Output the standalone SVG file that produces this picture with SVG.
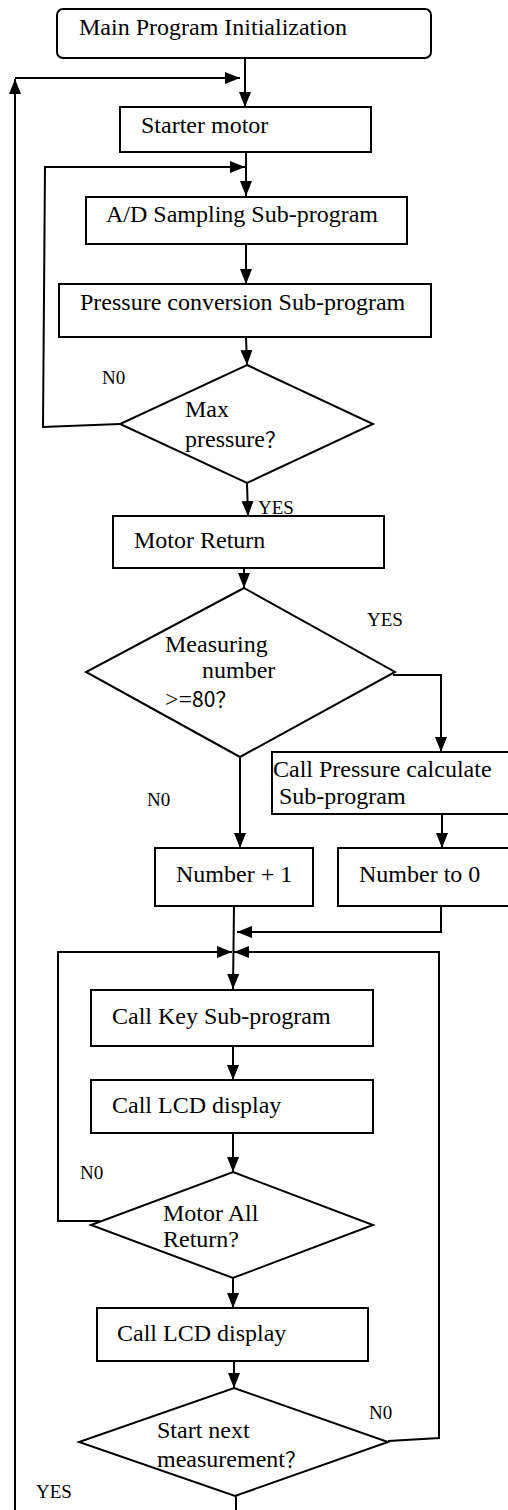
<svg xmlns="http://www.w3.org/2000/svg" width="508" height="1510" viewBox="0 0 508 1510">
<style>
.box{fill:#fff;stroke:#000;stroke-width:2}
.conn{fill:none;stroke:#000;stroke-width:2}
.t{font-family:"Liberation Serif","Times New Roman","Noto Sans CJK SC",serif;font-size:24px;fill:#000}
.lbl{font-family:"Liberation Serif","Times New Roman",serif;font-size:19px;fill:#000}
.cjk{font-family:"Noto Sans CJK SC",sans-serif;font-size:21px}
</style>
<defs>
<marker id="ah" viewBox="0 0 15 12" refX="15" refY="6" markerWidth="15" markerHeight="12" markerUnits="userSpaceOnUse" orient="auto">
<path d="M0,0 L15,6 L0,12 z" fill="#000"/>
</marker>
</defs>
<rect width="508" height="1510" fill="#fff"/>
<g id="connectors">
<path class="conn" d="M245,58 L245,107" marker-end="url(#ah)"/>
<path class="conn" d="M15,1510 L15,79" marker-end="url(#ah)"/>
<path class="conn" d="M15,78 L240,78" marker-end="url(#ah)"/>
<path class="conn" d="M246,152 L246,196" marker-end="url(#ah)"/>
<path class="conn" d="M120,424 L43,427 L45,167 L245,167" marker-end="url(#ah)"/>
<path class="conn" d="M246,244 L246,284" marker-end="url(#ah)"/>
<path class="conn" d="M246,337 L247,365" marker-end="url(#ah)"/>
<path class="conn" d="M247,483 L248,516" marker-end="url(#ah)"/>
<path class="conn" d="M244,568 L244,588" marker-end="url(#ah)"/>
<path class="conn" d="M393,675 L441,675 L441,752" marker-end="url(#ah)"/>
<path class="conn" d="M240,757 L240,848" marker-end="url(#ah)"/>
<path class="conn" d="M442,814 L442,848" marker-end="url(#ah)"/>
<path class="conn" d="M441,906 L441,932 L237,932" marker-end="url(#ah)"/>
<path class="conn" d="M234,906 L233,989" marker-end="url(#ah)"/>
<path class="conn" d="M100,1221 L58,1221 L58,952 L232,952" marker-end="url(#ah)"/>
<path class="conn" d="M388,1441 L439,1438 L439,952 L234,952" marker-end="url(#ah)"/>
<path class="conn" d="M233,1046 L233,1080" marker-end="url(#ah)"/>
<path class="conn" d="M233,1133 L233,1172" marker-end="url(#ah)"/>
<path class="conn" d="M233,1278 L233,1308" marker-end="url(#ah)"/>
<path class="conn" d="M234,1361 L234,1388" marker-end="url(#ah)"/>
<path class="conn" d="M236,1496 L236,1510"/>
</g>
<g id="n-init">
<rect class="box" x="57" y="9" width="374" height="49" rx="6"/>
<text class="t" x="79" y="35">Main Program Initialization</text>
</g>
<g id="n-starter">
<rect class="box" x="120" y="107" width="251" height="45"/>
<text class="t" x="141" y="133">Starter motor</text>
</g>
<g id="n-ad">
<rect class="box" x="86" y="197" width="321" height="47"/>
<text class="t" x="106" y="222">A/D Sampling Sub-program</text>
</g>
<g id="n-conv">
<rect class="box" x="59" y="284" width="372" height="53"/>
<text class="t" x="80" y="310">Pressure conversion Sub-program</text>
</g>
<g id="n-max">
<polygon class="box" points="247,365 373,424 247,483 120,424"/>
<text class="t" x="185" y="417">Max</text>
<text class="t" x="185" y="447">pressure<tspan class="cjk">？</tspan></text>
<text class="lbl" x="102" y="384">N0</text>
<text class="lbl" x="258" y="514">YES</text>
</g>
<g id="n-return">
<rect class="box" x="113" y="516" width="271" height="52"/>
<text class="t" x="134" y="548">Motor Return</text>
</g>
<g id="n-measure">
<polygon class="box" points="244,588 395,672 240,757 86,672"/>
<text class="t" x="165" y="652">Measuring</text>
<text class="t" x="202" y="678">number</text>
<text class="t" x="165" y="707">&gt;=<tspan class="cjk">80？</tspan></text>
<text class="lbl" x="367" y="626">YES</text>
<text class="lbl" x="147" y="806">N0</text>
</g>
<g id="n-calc">
<rect class="box" x="272" y="752" width="250" height="62"/>
<text class="t" x="273" y="777">Call Pressure calculate</text>
<text class="t" x="279" y="804">Sub-program</text>
</g>
<g id="n-plus">
<rect class="box" x="155" y="848" width="158" height="58"/>
<text class="t" x="176" y="882">Number + 1</text>
</g>
<g id="n-zero">
<rect class="box" x="338" y="848" width="200" height="58"/>
<text class="t" x="359" y="882">Number to 0</text>
</g>
<g id="n-key">
<rect class="box" x="91" y="990" width="282" height="56"/>
<text class="t" x="112" y="1024">Call Key Sub-program</text>
</g>
<g id="n-lcd1">
<rect class="box" x="91" y="1080" width="282" height="53"/>
<text class="t" x="112" y="1113">Call LCD display</text>
</g>
<g id="n-allret">
<polygon class="box" points="233,1172 373,1225 233,1278 91,1225"/>
<text class="t" x="163" y="1221">Motor All</text>
<text class="t" x="163" y="1247">Return?</text>
<text class="lbl" x="80" y="1179">N0</text>
</g>
<g id="n-lcd2">
<rect class="box" x="97" y="1308" width="271" height="53"/>
<text class="t" x="117" y="1341">Call LCD display</text>
</g>
<g id="n-next">
<polygon class="box" points="234,1388 388,1442 235,1496 79,1442"/>
<text class="t" x="157" y="1438">Start next</text>
<text class="t" x="157" y="1467">measurement<tspan class="cjk">？</tspan></text>
<text class="lbl" x="369" y="1419">N0</text>
<text class="lbl" x="36" y="1498">YES</text>
</g>
</svg>
